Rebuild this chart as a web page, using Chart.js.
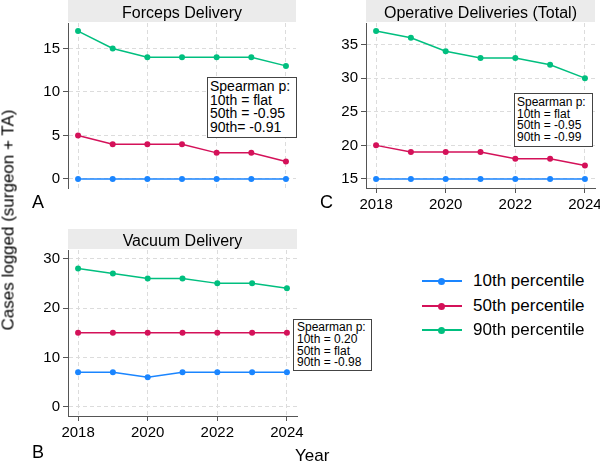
<!DOCTYPE html>
<html>
<head>
<meta charset="utf-8">
<script src="https://cdn.jsdelivr.net/npm/chart.js@4.4.1/dist/chart.umd.min.js"></script>
<style>
  body { margin: 0; background: #fff; }
  #wrap { position: relative; width: 600px; height: 463px; overflow: hidden;
          font-family: 'Liberation Sans', Arial, sans-serif; color: #000; }
  .panel { position: absolute; }
  .txt { position: absolute; line-height: 1; white-space: nowrap; }
  .box { position: absolute; border: 1px solid #444; background: #fff; white-space: nowrap; box-sizing: border-box; }
  .leg { position: absolute; left: 422px; width: 180px; height: 20px; }
  .leg .ln { position: absolute; left: 0; top: 9px; width: 40px; height: 1.5px; }
  .leg .dot { position: absolute; left: 16px; top: 6.5px; width: 7px; height: 7px; border-radius: 50%; }
  .leg .lab { position: absolute; left: 51px; top: 1px; font-size: 17px; line-height: 17px; }
</style>
</head>
<body>
<div id="wrap">
  <div class="panel" style="left:0;top:0"><canvas id="chartA" width="300" height="200"></canvas></div>
  <div class="panel" style="left:300px;top:0"><canvas id="chartC" width="300" height="225"></canvas></div>
  <div class="panel" style="left:0;top:226px"><canvas id="chartB" width="330" height="220"></canvas></div>

  <div class="box" style="left:207px;top:77px;width:90px;height:61px;font-size:14px;line-height:13.7px;padding:2px 0 0 2px">Spearman p:<br>10th = flat<br>50th = -0.95<br>90th= -0.91</div>
  <div class="box" style="left:514px;top:93px;width:79px;height:54px;font-size:12px;line-height:11.5px;padding:3px 0 0 2px">Spearman p:<br>10th = flat<br>50th = -0.95<br>90th = -0.99</div>
  <div class="box" style="left:293px;top:319px;width:79px;height:52px;font-size:12px;line-height:11.8px;padding:2px 0 0 3px">Spearman p:<br>10th = 0.20<br>50th = flat<br>90th = -0.98</div>

  <div class="txt" style="left:32px;top:193px;font-size:18px">A</div>
  <div class="txt" style="left:320px;top:193px;font-size:18px">C</div>
  <div class="txt" style="left:32px;top:443px;font-size:18px">B</div>
  <div class="txt" style="left:295px;top:447px;font-size:17px">Year</div>
  <div class="txt" style="left:8px;top:220px;font-size:17px;transform:translate(-50%,-50%) rotate(-90deg)">Cases logged (surgeon + TA)</div>

  <div id="legend"></div>
</div>
<script>
const years = [2018, 2019, 2020, 2021, 2022, 2023, 2024];
const yearTicks = [2018, 2020, 2022, 2024];

const forceps10 = [0, 0, 0, 0, 0, 0, 0];
const forceps50 = [5, 4, 4, 4, 3, 3, 2];
const forceps90 = [17, 15, 14, 14, 14, 14, 13];

const vacuum10 = [7, 7, 6, 7, 7, 7, 7];
const vacuum50 = [15, 15, 15, 15, 15, 15, 15];
const vacuum90 = [28, 27, 26, 26, 25, 25, 24];

const total10 = [15, 15, 15, 15, 15, 15, 15];
const total50 = [20, 19, 19, 19, 18, 18, 17];
const total90 = [37, 36, 34, 33, 33, 32, 30];

const forcepsTicks = [0, 5, 10, 15];
const vacuumTicks = [0, 10, 20, 30];
const totalTicks = [15, 20, 25, 30, 35];

const seriesNames = ['10th percentile', '50th percentile', '90th percentile'];
const seriesColors = ['#1a85ff', '#d41159', '#00bf7f'];

const fontFamily = "'Liberation Sans', Arial, sans-serif";
Chart.defaults.font.family = fontFamily;
Chart.defaults.color = '#000';

// grey strip with the panel title, centred over the plot area
const titleBand = {
    id: 'titleBand',
    beforeDraw(chart, args, opts) {
        const ctx = chart.ctx;
        const a = chart.chartArea;
        ctx.save();
        ctx.fillStyle = '#ebebeb';
        ctx.fillRect(a.left, opts.top, a.right - a.left, a.top - opts.top - 1);
        ctx.fillStyle = '#000';
        ctx.font = '16px ' + fontFamily;
        ctx.textAlign = 'center';
        ctx.textBaseline = 'alphabetic';
        ctx.fillText(opts.text, (a.left + a.right) / 2, opts.baseline);
        ctx.restore();
    }
};

function makePanel(id, title, s10, s50, s90, yTicks, yMin, yMax, cfg) {
    const ctx = document.getElementById(id).getContext('2d');
    const datasets = [s10, s50, s90].map((vals, i) => ({
        label: seriesNames[i],
        data: years.map((yr, j) => ({ x: yr, y: vals[j] })),
        borderColor: seriesColors[i],
        backgroundColor: seriesColors[i],
        pointBackgroundColor: seriesColors[i],
        borderWidth: 1.5,
        pointRadius: 3,
        pointBorderWidth: 0,
        clip: false
    }));
    return new Chart(ctx, {
        type: 'line',
        data: { datasets: datasets },
        plugins: [titleBand],
        options: {
            responsive: false,
            animation: false,
            layout: { padding: { top: cfg.areaTop, right: cfg.padRight, left: 0, bottom: 0 } },
            plugins: {
                legend: { display: false },
                tooltip: { enabled: false },
                title: { display: false },
                titleBand: { top: cfg.bandTop, text: title, baseline: cfg.titleBase }
            },
            scales: {
                x: {
                    type: 'linear',
                    min: 2017.71,
                    max: 2024.29,
                    afterBuildTicks: (s) => { s.ticks = yearTicks.map(v => ({ value: v })); },
                    afterFit: (s) => { s.height = cfg.xHeight; s.paddingLeft = 0; s.paddingRight = 0; },
                    ticks: {
                        display: cfg.showX,
                        padding: 3,
                        font: { size: 15 },
                        callback: (v) => String(v)
                    },
                    grid: {
                        color: '#dcdcdc',
                        drawTicks: cfg.showX,
                        tickLength: 5,
                        tickColor: '#555'
                    },
                    border: { display: cfg.showX, color: '#555', width: 1, dash: [4, 3] }
                },
                y: {
                    min: yMin,
                    max: yMax,
                    afterBuildTicks: (s) => { s.ticks = yTicks.map(v => ({ value: v })); },
                    afterFit: (s) => { s.width = cfg.yWidth; s.paddingTop = 0; s.paddingBottom = 0; },
                    ticks: {
                        padding: 3,
                        font: { size: 15 },
                        callback: (v) => String(v)
                    },
                    grid: {
                        color: '#dcdcdc',
                        tickLength: 5,
                        tickColor: '#555'
                    },
                    border: { display: true, color: '#555', width: 1, dash: [4, 3] }
                }
            }
        }
    });
}

makePanel('chartA', 'Forceps Delivery', forceps10, forceps50, forceps90,
    forcepsTicks, -1.04, 17.93,
    { areaTop: 23, bandTop: 0, titleBase: 18, padRight: 3, yWidth: 68, xHeight: 12, showX: false });

makePanel('chartC', 'Operative Deliveries (Total)', total10, total50, total90,
    totalTicks, 13.66, 38.2,
    { areaTop: 23, bandTop: 0, titleBase: 18, padRight: 5, yWidth: 66, xHeight: 37, showX: true });

makePanel('chartB', 'Vacuum Delivery', vacuum10, vacuum50, vacuum90,
    vacuumTicks, -1.83, 31.75,
    { areaTop: 24, bandTop: 3, titleBase: 20, padRight: 33, yWidth: 68, xHeight: 30, showX: true });

// legend
const legendEl = document.getElementById('legend');
const legendRows = [281, 306, 330];
seriesNames.forEach((name, i) => {
    const row = document.createElement('div');
    row.className = 'leg';
    row.style.top = (legendRows[i] - 10) + 'px';
    row.innerHTML = '<div class="ln" style="background:' + seriesColors[i] + '"></div>' +
        '<div class="dot" style="background:' + seriesColors[i] + '"></div>' +
        '<div class="lab">' + name + '</div>';
    legendEl.appendChild(row);
});
</script>
</body>
</html>
